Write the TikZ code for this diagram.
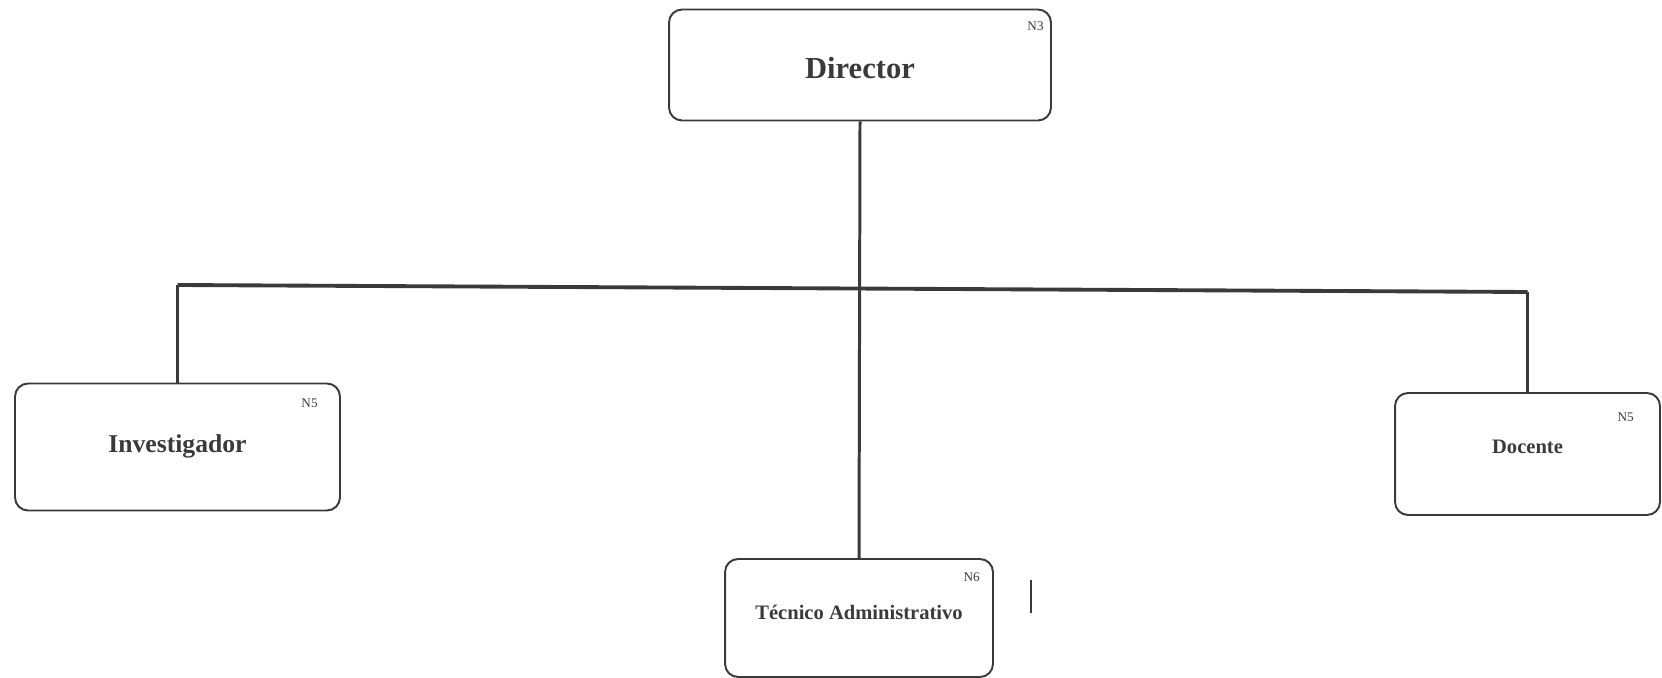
\documentclass[tikz,border=0pt]{standalone}
\usepackage{fontspec}
\setmainfont{Liberation Serif}
\usepackage{tikz}
\usetikzlibrary{positioning,calc}
\definecolor{ink}{HTML}{3A3A3A}
\tikzset{
  puesto/.style={draw=ink,line width=1.1pt,rounded corners=0.26cm,text=ink,font=\bfseries,inner sep=0pt},
  nivel/.style={text=ink,font=\fontsize{7.5}{8}\selectfont,inner sep=0pt},
  enlace/.style={draw=ink,line width=1.7pt},
  raya/.style={draw=ink,line width=2.2pt}
}
\begin{document}
\begin{tikzpicture}[x=0.02cm,y=-0.02cm]
\useasboundingbox(0,0)rectangle(1662,678);
%boxes
\node[puesto,minimum width=7.64cm,minimum height=2.22cm,font=\bfseries\fontsize{17.4}{20}\selectfont](dir)at(860,65){\raisebox{-0.28cm}[0pt][0pt]{Director}};
\node[puesto,minimum width=6.5cm,minimum height=2.54cm,font=\bfseries\fontsize{14.6}{17}\selectfont](inv)at(177.5,447){\raisebox{-0.12cm}[0pt][0pt]{Investigador}};
\node[puesto,minimum width=5.3cm,minimum height=2.44cm,font=\bfseries\fontsize{11.7}{14}\selectfont](doc)at(1527.5,454){\raisebox{0.02cm}[0pt][0pt]{Docente}};
\node[puesto,minimum width=5.36cm,minimum height=2.36cm,font=\bfseries\fontsize{11.7}{14}\selectfont](tec)at(859,618){\raisebox{-0.02cm}[0pt][0pt]{T\'ecnico Administrativo}};
%level tags
\node[nivel,below left=0.26cm and 0.16cm of dir.north east](n3){N3};
\node[nivel,below left=0.32cm and 0.46cm of inv.north east](n5a){N5};
\node[nivel,below left=0.4cm and 0.54cm of doc.north east](n5b){N5};
\node[nivel,below left=0.28cm and 0.28cm of tec.north east](n6){N6};
%connectors
\coordinate(hl)at(177.5,285);
\coordinate(hr)at(1527.5,292);
\draw[raya](hl)--(hr);
\draw[enlace](dir.south)--(tec.north);
\draw[enlace](hl)--(inv.north);
\draw[enlace](hr)--(doc.north);
%stray mark
\coordinate(m1)at(1031,580);
\coordinate(m2)at(1031,613);
\draw[ink,line width=1.1pt](m1)--(m2);
\end{tikzpicture}
\end{document}
